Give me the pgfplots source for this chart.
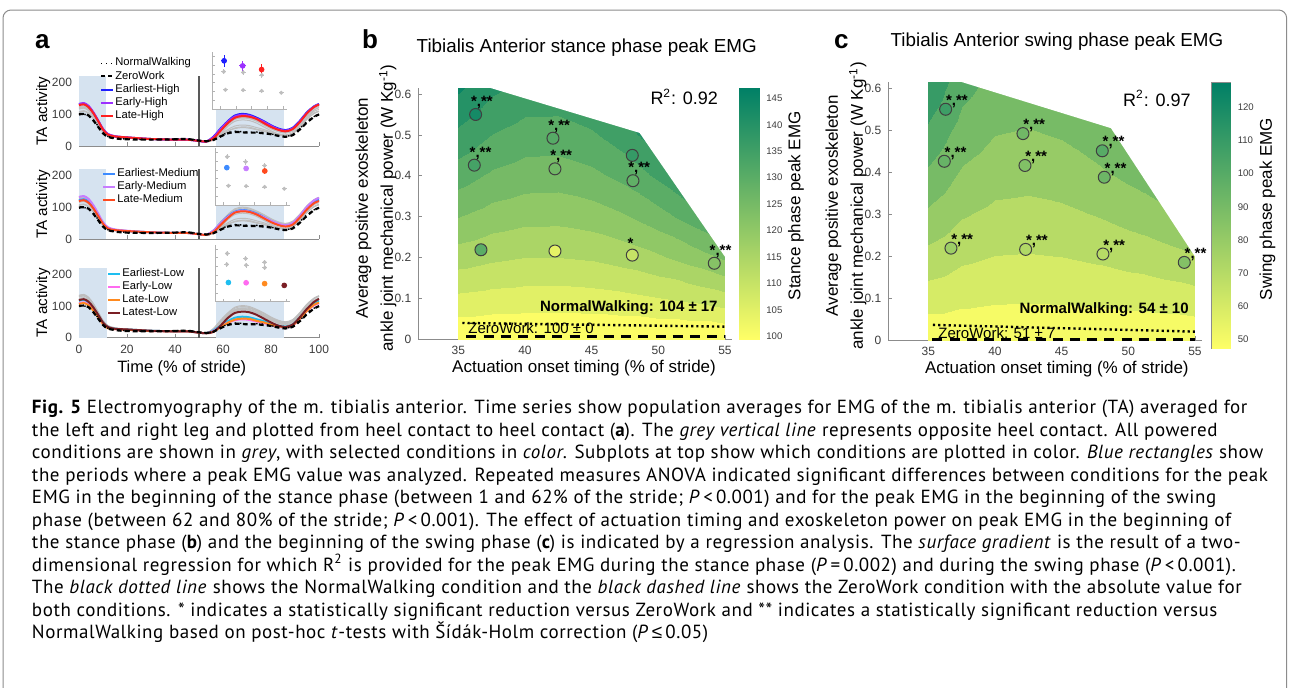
\documentclass[border=0pt]{standalone}
\usepackage{fontspec}
\setmainfont{Liberation Sans}
\newfontfamily\capfont[LetterSpace=3]{PT Sans}
\newfontfamily\symfont{Liberation Sans}
\usepackage{pgfplots}
\usepackage{pgfplotstable}
\pgfplotsset{compat=1.18}

\definecolor{axgray}{HTML}{8C8C8C}
\definecolor{tkgray}{HTML}{3C3C3C}
\definecolor{rectblue}{HTML}{D6E3F0}
\definecolor{gline}{HTML}{BEBEBE}
\definecolor{cEH}{HTML}{1F1FFF}
\definecolor{cEyH}{HTML}{9B30FF}
\definecolor{cLH}{HTML}{FF2020}
\definecolor{cEM}{HTML}{3D8BFF}
\definecolor{cEyM}{HTML}{C77DFF}
\definecolor{cLM}{HTML}{FF4A1F}
\definecolor{cEL}{HTML}{1EBEF0}
\definecolor{cEyL}{HTML}{FF6BF0}
\definecolor{cLL}{HTML}{FF8A1F}
\definecolor{cLtL}{HTML}{7A1E24}

\pgfplotsset{
  colormap={stancemap}{rgb255(100)=(252,253,102) rgb255(105)=(225,240,102) rgb255(110)=(198,227,102)
    rgb255(115)=(171,213,102) rgb255(120)=(144,200,102) rgb255(125)=(118,186,102) rgb255(130)=(91,173,102)
    rgb255(135)=(64,159,102) rgb255(140)=(37,146,102) rgb255(145)=(10,133,102) rgb255(150)=(10,133,102)},
  colormap={swingmap}{rgb255(50)=(246,251,102) rgb255(60)=(214,235,102) rgb255(70)=(183,219,102)
    rgb255(80)=(151,203,102) rgb255(90)=(119,187,102) rgb255(100)=(87,171,102) rgb255(110)=(55,155,102)
    rgb255(120)=(23,139,102) rgb255(130)=(23,139,102)},
  colormap={summerr}{rgb=(1,1,0.4) rgb=(0,0.5,0.4)},
  matlab/.style={
    scale only axis, clip=false,
    axis x line*=bottom, axis y line*=left,
    axis line style={axgray, line width=0.5pt},
    tick style={axgray, line width=0.4pt},
    tick align=inside, major tick length=2pt,
    tick label style={font=\fontsize{6}{7}\selectfont, text=tkgray},
    /pgf/number format/assume math mode=true,
  },
  tsaxis/.style={matlab, anchor=south west, width=120pt, height=35pt,
    xmin=0, xmax=100, ymin=0, ymax=220, xtick={0,20,...,100}, ytick={0,100,200},
    ylabel={TA activity},
    ylabel style={at={(axis description cs:-0.149,0.5)}, anchor=center, font=\fontsize{7.6}{8}\selectfont},
    legend style={draw=none, fill=none, anchor=north west, inner sep=0pt, row sep=0pt,
      font=\fontsize{5.6}{6}\selectfont, nodes={inner sep=0.5pt}},
    legend cell align=left,
    legend image code/.code={\draw[##1] (0pt,0pt) -- (6pt,0pt);},
  },
  inset/.style={matlab, anchor=south west, width=37.5pt, height=28.5pt,
    xmin=32.5, xmax=56, ymin=0, ymax=0.65, xtick={35,40,...,55}, ytick={0.1,0.2,0.3,0.4,0.5,0.6},
    xticklabels={}, yticklabels={}, major tick length=1.5pt,
    axis line style={black!30, line width=0.4pt}, tick style={black!30},
    axis background/.style={fill=white}},
  gpt/.style={only marks, mark=*, mark size=0.8pt, gline,
    error bars/.cd, x dir=both, x explicit, y dir=both, y explicit, error mark=none},
  cpt/.style={only marks, mark=*, mark size=1.2pt, #1,
    error bars/.cd, x dir=both, x explicit, y dir=both, y explicit, error mark=none},
  contaxis/.style={matlab, anchor=south west, width=156.65pt,
    xmin=32, xmax=55.5, ymin=0, ymax=0.615, xtick={35,40,...,55}, ytick={0,0.1,0.2,0.3,0.4,0.5,0.6},
    xlabel={Actuation onset timing (\% of stride)},
    ylabel={Average positive exoskeleton\\ankle joint mechanical power (W Kg\textsuperscript{-1})},
    xlabel style={font=\fontsize{8.5}{9}\selectfont, anchor=center},
    ylabel style={font=\fontsize{8.5}{12.5}\selectfont, align=center, anchor=center},
    title style={font=\fontsize{9.4}{11}\selectfont, anchor=center},
  },
  cbaxis/.style={scale only axis, anchor=south west, xmin=0, xmax=1, xtick=\empty,
    axis line style={axgray, line width=0.4pt}, tick style={axgray, line width=0.4pt},
    tick align=inside, major tick length=1.5pt, yticklabel pos=right,
    yticklabel style={font=\fontsize{4.8}{5}\selectfont, text=tkgray},
    /pgf/number format/assume math mode=true,
    ylabel style={font=\fontsize{8.5}{9}\selectfont, anchor=center, rotate=0},
    colormap name=summerr},
}

% TA activity time series (% stride)
\pgfplotstableread{
x EH EyH LH EM EyM LM EL EyL LL LtL NW ZW
0 130 132 128 123 133 120 116 108 106 118 98 100
2 133 135 131 126 136 123 119 111 109 121 100 101
4 124 126 122 118 127 115 111 104 102 113 95 96
6 104 106 103 99 107 97 93 87 85 95 82 80
8 79 80 78 75 81 73 71 66 65 72 62 60
10 53 54 52 50 54 49 47 44 43 48 42 40
12 37 38 36 35 38 34 33 31 30 34 30 29
15 30 31 30 29 31 29 28 27 27 28 25 24
20 27 27 27 26 27 26 26 25 25 26 22 21
30 22 22 22 22 22 22 22 21 21 22 20 20
40 20 20 20 20 20 20 20 20 20 20 22 21
45 20 20 20 20 20 20 20 20 20 20 22 22
50 16 16 16 16 16 16 16 16 16 16 18 17
53 14 14 14 14 14 14 14 14 14 14 16 15
56 29 28 24 27 27 23 23 21 19 18 20 19
59 55 53 48 51 50 45 38 35 33 38 32 30
62 78 76 72 72 70 67 52 47 47 62 42 40
65 96 93 89 87 85 84 63 55 57 78 46 44
68 101 98 94 92 90 88 66 58 60 82 45 43
71 98 95 92 89 87 86 64 56 59 80 43 42
74 89 86 85 81 79 78 58 51 53 72 44 42
77 78 76 72 70 69 66 52 46 48 60 42 40
80 65 63 60 57 58 54 44 40 41 48 38 37
83 55 53 51 47 49 45 38 35 36 38 33 32
86 50 48 46 42 44 40 35 32 33 34 30 29
89 57 55 53 49 51 46 41 38 39 41 36 34
92 79 77 75 71 74 68 63 59 60 64 55 52
95 106 104 103 98 102 94 89 84 85 91 77 74
98 125 124 123 118 123 114 109 102 104 113 93 92
100 132 131 130 125 130 120 115 108 110 122 100 99
}\tsdata

% regression surface, stance phase peak EMG
\pgfplotstableread{
t p z
35 0 100
37.5 0 100
40 0 100
42.5 0 100
45 0 100
47.5 0 100
50 0 100
52.5 0 100
55 0 100
35 0.1 109.0
37.5 0.1 108.2
40 0.1 107.8
42.5 0.1 107.7
45 0.1 108.1
47.5 0.1 108.8
50 0.1 109.9
52.5 0.1 111.3
55 0.1 113.2
35 0.2 117.3
37.5 0.2 115.8
40 0.2 114.9
42.5 0.2 114.9
45 0.2 115.5
47.5 0.2 117.0
50 0.2 119.1
52.5 0.2 122.1
55 0.2 125.7
35 0.3 125.1
37.5 0.3 122.7
40 0.3 121.5
42.5 0.3 121.4
45 0.3 122.4
47.5 0.3 124.5
50 0.3 127.8
52.5 0.3 132.2
55 0.3 137.7
35 0.4 132.3
37.5 0.4 129.1
40 0.4 127.5
42.5 0.4 127.3
45 0.4 128.7
47.5 0.4 131.5
50 0.4 135.9
52.5 0.4 141.7
55 0.4 149.1
35 0.5 138.8
37.5 0.5 134.9
40 0.5 132.8
42.5 0.5 132.7
45 0.5 134.3
47.5 0.5 137.9
50 0.5 143.3
52.5 0.5 150.7
55 0.5 159.8
35 0.615 145.9
37.5 0.615 141.1
40 0.615 138.5
42.5 0.615 138.3
45 0.615 140.4
47.5 0.615 144.8
50 0.615 151.5
52.5 0.615 160.6
55 0.615 172.0
}\stancesurf

% regression surface, swing phase peak EMG
\pgfplotstableread{
t p z
35 0 52
37.5 0 52
40 0 52
42.5 0 52
45 0 52
47.5 0 52
50 0 52
52.5 0 52
55 0 52
35 0.1 64.9
37.5 0.1 62.5
40 0.1 61.4
42.5 0.1 61.1
45 0.1 61.5
47.5 0.1 62.3
50 0.1 63.4
52.5 0.1 64.6
55 0.1 66.1
35 0.2 77.0
37.5 0.2 72.1
40 0.2 69.9
42.5 0.2 69.5
45 0.2 70.2
47.5 0.2 71.8
50 0.2 73.9
52.5 0.2 76.4
55 0.2 79.4
35 0.3 88.3
37.5 0.3 81.0
40 0.3 77.7
42.5 0.3 77.0
45 0.3 78.1
47.5 0.3 80.4
50 0.3 83.7
52.5 0.3 87.4
55 0.3 91.9
35 0.4 98.8
37.5 0.4 89.0
40 0.4 84.6
42.5 0.4 83.7
45 0.4 85.2
47.5 0.4 88.3
50 0.4 92.6
52.5 0.4 97.6
55 0.4 103.6
35 0.5 108.5
37.5 0.5 96.3
40 0.5 90.8
42.5 0.5 89.7
45 0.5 91.5
47.5 0.5 95.4
50 0.5 100.8
52.5 0.5 107.0
55 0.5 114.5
35 0.615 119.1
37.5 0.615 103.9
40 0.615 97.1
42.5 0.615 95.7
45 0.615 98.0
47.5 0.615 102.8
50 0.615 109.5
52.5 0.615 117.2
55 0.615 126.5
}\swingsurf

\begin{document}
\begin{tikzpicture}
\useasboundingbox (0pt,0pt) rectangle (645pt,-343.5pt);
\draw[black!45, line width=0.5pt, rounded corners=4pt] (1.5pt,-5pt) rectangle (643.3pt,-360pt);

% ---------------- panel a ----------------
\node[anchor=base west, font=\bfseries\fontsize{13}{14}\selectfont] at (14pt,-24pt) {a};

% high
\begin{axis}[tsaxis, at={(39.5pt,-73pt)}, xticklabels={}, legend style={at={(0.0875,1.28)}}]
  \addplot[fill=rectblue, draw=none, forget plot] coordinates {(0,0) (0,220) (11.3,220) (11.3,0)} -- cycle;
  \addplot[fill=rectblue, draw=none, forget plot] coordinates {(57,0) (57,220) (85.4,220) (85.4,0)} -- cycle;
  \addplot[black!65, line width=0.6pt, forget plot] coordinates {(50,0) (50,220)};
  \pgfplotsinvokeforeach{EH,EyH,LH,EM,EyM,LM,EL,EyL,LL,LtL}{
    \addplot[gline, line width=0.5pt, smooth, forget plot] table[x=x, y=#1] {\tsdata};}
  \addplot[cEH, line width=1pt, smooth, forget plot] table[x=x, y=EH] {\tsdata};
  \addplot[cEyH, line width=1pt, smooth, forget plot] table[x=x, y=EyH] {\tsdata};
  \addplot[cLH, line width=1pt, smooth, forget plot] table[x=x, y=LH] {\tsdata};
  \addplot[black, line width=0.7pt, dotted, smooth, forget plot] table[x=x, y=NW] {\tsdata};
  \addplot[black, line width=1.1pt, dash pattern=on 2.4pt off 1.6pt, smooth, forget plot] table[x=x, y=ZW] {\tsdata};
  \addlegendimage{black, line width=0.5pt, dotted}\addlegendentry{NormalWalking}
  \addlegendimage{black, line width=1pt, dash pattern=on 2pt off 1.5pt}\addlegendentry{ZeroWork}
  \addlegendimage{cEH, line width=1pt}\addlegendentry{Earliest-High}
  \addlegendimage{cEyH, line width=1pt}\addlegendentry{Early-High}
  \addlegendimage{cLH, line width=1pt}\addlegendentry{Late-High}
\end{axis}
\begin{axis}[inset, at={(106pt,-54.5pt)}]
  \addplot[gpt] coordinates {(36.2,0.426) +- (0.8,0.03) (42.25,0.417) +- (0.8,0.03) (48.1,0.388) +- (0.8,0.03)
    (36.7,0.219) +- (0.8,0.015) (42.25,0.216) +- (0.8,0.015) (48.05,0.206) +- (0.8,0.015) (54.2,0.186) +- (0.8,0.015)};
  \addplot[cpt=cEH] coordinates {(36.3,0.550) +- (1.0,0.07)};
  \addplot[cpt=cEyH] coordinates {(42.1,0.492) +- (1.0,0.06)};
  \addplot[cpt=cLH] coordinates {(48.05,0.450) +- (0.8,0.06)};
\end{axis}

% medium
\begin{axis}[tsaxis, at={(39.5pt,-119.65pt)}, xticklabels={}, legend style={at={(0.096,1.03)}}]
  \addplot[fill=rectblue, draw=none, forget plot] coordinates {(0,0) (0,220) (11.3,220) (11.3,0)} -- cycle;
  \addplot[fill=rectblue, draw=none, forget plot] coordinates {(57,0) (57,220) (85.4,220) (85.4,0)} -- cycle;
  \addplot[black!65, line width=0.6pt, forget plot] coordinates {(50,0) (50,220)};
  \pgfplotsinvokeforeach{EH,EyH,LH,EM,EyM,LM,EL,EyL,LL,LtL}{
    \addplot[gline, line width=0.5pt, smooth, forget plot] table[x=x, y=#1] {\tsdata};}
  \addplot[cEM, line width=1pt, smooth, forget plot] table[x=x, y=EM] {\tsdata};
  \addplot[cEyM, line width=1pt, smooth, forget plot] table[x=x, y=EyM] {\tsdata};
  \addplot[cLM, line width=1pt, smooth, forget plot] table[x=x, y=LM] {\tsdata};
  \addplot[black, line width=0.7pt, dotted, smooth, forget plot] table[x=x, y=NW] {\tsdata};
  \addplot[black, line width=1.1pt, dash pattern=on 2.4pt off 1.6pt, smooth, forget plot] table[x=x, y=ZW] {\tsdata};
  \addlegendimage{cEM, line width=1pt}\addlegendentry{Earliest-Medium}
  \addlegendimage{cEyM, line width=1pt}\addlegendentry{Early-Medium}
  \addlegendimage{cLM, line width=1pt}\addlegendentry{Late-Medium}
\end{axis}
\begin{axis}[inset, at={(107.5pt,-102.5pt)}]
  \addplot[gpt] coordinates {(36.3,0.550) +- (0.8,0.03) (42.1,0.492) +- (0.8,0.03) (48.05,0.450) +- (0.8,0.03)
    (36.7,0.219) +- (0.8,0.015) (42.25,0.216) +- (0.8,0.015) (48.05,0.206) +- (0.8,0.015) (54.2,0.186) +- (0.8,0.015)};
  \addplot[cpt=cEM] coordinates {(36.2,0.426) +- (0.8,0.02)};
  \addplot[cpt=cEyM] coordinates {(42.25,0.417) +- (0.8,0.02)};
  \addplot[cpt=cLM] coordinates {(48.1,0.388) +- (0.8,0.03)};
\end{axis}

% low
\begin{axis}[tsaxis, at={(39.5pt,-168.85pt)}, xlabel={Time (\% of stride)},
    xlabel style={at={(axis description cs:0.428,-0.437)}, anchor=center, font=\fontsize{8.2}{9}\selectfont},
    legend style={at={(0.117,1.01)}}]
  \addplot[fill=rectblue, draw=none, forget plot] coordinates {(0,0) (0,220) (11.5,220) (11.5,0)} -- cycle;
  \addplot[fill=rectblue, draw=none, forget plot] coordinates {(57,0) (57,220) (85.4,220) (85.4,0)} -- cycle;
  \addplot[black!65, line width=0.6pt, forget plot] coordinates {(50,0) (50,220)};
  \pgfplotsinvokeforeach{EH,EyH,LH,EM,EyM,LM,EL,EyL,LL,LtL}{
    \addplot[gline, line width=0.5pt, smooth, forget plot] table[x=x, y=#1] {\tsdata};}
  \addplot[cEL, line width=1pt, smooth, forget plot] table[x=x, y=EL] {\tsdata};
  \addplot[cEyL, line width=1pt, smooth, forget plot] table[x=x, y=EyL] {\tsdata};
  \addplot[cLL, line width=1pt, smooth, forget plot] table[x=x, y=LL] {\tsdata};
  \addplot[cLtL, line width=1pt, smooth, forget plot] table[x=x, y=LtL] {\tsdata};
  \addplot[black, line width=0.7pt, dotted, smooth, forget plot] table[x=x, y=NW] {\tsdata};
  \addplot[black, line width=1.1pt, dash pattern=on 2.4pt off 1.6pt, smooth, forget plot] table[x=x, y=ZW] {\tsdata};
  \addlegendimage{cEL, line width=1pt}\addlegendentry{Earliest-Low}
  \addlegendimage{cEyL, line width=1pt}\addlegendentry{Early-Low}
  \addlegendimage{cLL, line width=1pt}\addlegendentry{Late-Low}
  \addlegendimage{cLtL, line width=1pt}\addlegendentry{Latest-Low}
\end{axis}
\begin{axis}[inset, at={(107.5pt,-150.85pt)}]
  \addplot[gpt] coordinates {(36.3,0.550) +- (0.8,0.03) (42.1,0.492) +- (0.8,0.03) (48.05,0.450) +- (0.8,0.03)
    (36.2,0.426) +- (0.8,0.03) (42.25,0.417) +- (0.8,0.03) (48.1,0.388) +- (0.8,0.03)};
  \addplot[cpt=cEL] coordinates {(36.7,0.219) +- (0.8,0.01)};
  \addplot[cpt=cEyL] coordinates {(42.25,0.216) +- (0.8,0.01)};
  \addplot[cpt=cLL] coordinates {(48.05,0.206) +- (0.8,0.01)};
  \addplot[cpt=cLtL] coordinates {(54.2,0.186) +- (0.8,0.01)};
\end{axis}

% ---------------- panel b ----------------
\node[anchor=base west, font=\bfseries\fontsize{13}{14}\selectfont] at (177.5pt,-24pt) {b};
\begin{axis}[contaxis, at={(209.15pt,-169.65pt)}, height=125.7pt,
    colormap name=stancemap, point meta min=100, point meta max=150,
    title={Tibialis Anterior stance phase peak EMG},
    title style={at={(axis description cs:0.5375,1.1138)}},
    xlabel style={at={(axis description cs:0.529,-0.1154)}},
    ylabel style={at={(axis description cs:-0.135,0.522)}}]
  \addplot[surf, shader=interp, colormap access=piecewise constant, mesh/cols=9, point meta=\thisrow{z}]
    table[x=t, y=p] {\stancesurf};
  \addplot[fill=white, draw=none] coordinates {(37.4,0.63) (37.4,0.615) (48.6,0.505) (55.0,0.202) (55.4,0.202) (55.4,0.63)} -- cycle;
  \addplot[black, line width=1.2pt, dash pattern=on 1.1pt off 1.5pt] coordinates {(35.3,0.040) (55,0.031)};
  \addplot[black, line width=1.6pt, dash pattern=on 5pt off 3.6pt] coordinates {(35.6,0.006) (55,0.006)};
  \addplot[scatter, only marks, mark=*, mark size=3pt, point meta=explicit,
    scatter/use mapped color={draw=black!75, fill=mapped color, line width=0.5pt}] coordinates {
    (36.3,0.550) [143] (36.2,0.426) [134] (42.1,0.492) [131] (42.25,0.417) [126] (48.05,0.450) [137]
    (48.1,0.388) [129] (36.7,0.219) [130] (42.25,0.216) [104] (48.05,0.206) [110] (54.2,0.186) [122]};
  \addplot[only marks, mark=none, nodes near coords, point meta=explicit symbolic,
    every node near coord/.append style={font=\bfseries\fontsize{7.5}{8}\selectfont, anchor=west, xshift=-2.5pt, yshift=6pt, inner sep=0pt}]
    coordinates {(36.3,0.550) [{*,**}] (36.2,0.426) [{*,**}] (42.1,0.492) [{*,**}] (42.25,0.417) [{*,**}]
    (48.1,0.388) [{*,**}] (48.05,0.206) [{*}] (54.2,0.186) [{*,**}]};
  \node[anchor=east, font=\fontsize{9}{10}\selectfont] at (axis cs:55,0.593) {R\textsuperscript{2}: 0.92};
  \node[anchor=east, font=\bfseries\fontsize{7.5}{8}\selectfont, inner sep=0pt] at (axis cs:54.48,0.078) {NormalWalking: 104 ± 17};
  \node[anchor=west, font=\fontsize{7.5}{8}\selectfont, inner sep=0pt] at (axis cs:35.73,0.028) {ZeroWork: 100 ± 0};
\end{axis}
\begin{axis}[cbaxis, at={(369.65pt,-169.65pt)}, width=10pt, height=125.5pt,
    ymin=99.4, ymax=146.9, ytick={100,105,...,145}, point meta min=99.4, point meta max=146.9,
    ylabel={Stance phase peak EMG}, ylabel style={at={(axis description cs:2.835,0.532)}}]
  \addplot[surf, shader=interp, mesh/cols=2, point meta=\thisrow{v}] table {
x y v
0 99.4 99.4
1 99.4 99.4
0 146.9 146.9
1 146.9 146.9
};
\end{axis}

% ---------------- panel c ----------------
\node[anchor=base west, font=\bfseries\fontsize{13}{14}\selectfont] at (413.5pt,-24pt) {c};
\begin{axis}[contaxis, at={(444.15pt,-170pt)}, height=129pt,
    colormap name=swingmap, point meta min=50, point meta max=130,
    title={Tibialis Anterior swing phase peak EMG},
    title style={at={(axis description cs:0.5384,1.1083)}},
    xlabel style={at={(axis description cs:0.538,-0.112)}},
    ylabel style={at={(axis description cs:-0.135,0.52)}}]
  \addplot[surf, shader=interp, colormap access=piecewise constant, mesh/cols=9, point meta=\thisrow{z}]
    table[x=t, y=p] {\swingsurf};
  \addplot[fill=white, draw=none] coordinates {(37.5,0.63) (37.5,0.615) (48.7,0.505) (55.0,0.199) (55.4,0.199) (55.4,0.63)} -- cycle;
  \addplot[black, line width=1.2pt, dash pattern=on 1.1pt off 1.5pt] coordinates {(35.35,0.036) (55,0.020)};
  \addplot[black, line width=1.6pt, dash pattern=on 5pt off 3.6pt] coordinates {(35.3,0.002) (55,0.002)};
  \addplot[scatter, only marks, mark=*, mark size=3pt, point meta=explicit,
    scatter/use mapped color={draw=black!75, fill=mapped color, line width=0.5pt}] coordinates {
    (36.3,0.550) [108] (36.2,0.426) [95] (42.1,0.492) [92] (42.25,0.416) [87] (48.05,0.451) [100]
    (48.2,0.388) [93] (36.7,0.219) [78] (42.3,0.216) [72] (48.1,0.205) [70] (54.2,0.185) [86]};
  \addplot[only marks, mark=none, nodes near coords, point meta=explicit symbolic,
    every node near coord/.append style={font=\bfseries\fontsize{7.5}{8}\selectfont, anchor=west, xshift=0pt, yshift=4pt, inner sep=0pt}]
    coordinates {(36.3,0.550) [{*,**}] (36.2,0.426) [{*,**}] (42.1,0.492) [{*,**}] (42.25,0.416) [{*,**}]
    (48.05,0.451) [{*,**}] (48.2,0.388) [{*,**}] (36.7,0.219) [{*,**}] (42.3,0.216) [{*,**}]
    (48.1,0.205) [{*,**}] (54.2,0.185) [{*,**}]};
  \node[anchor=east, font=\fontsize{9}{10}\selectfont] at (axis cs:55.2,0.576) {R\textsuperscript{2}: 0.97};
  \node[anchor=east, font=\bfseries\fontsize{7.5}{8}\selectfont, inner sep=0pt] at (axis cs:54.56,0.0715) {NormalWalking: 54 ± 10};
  \node[anchor=west, font=\fontsize{7.5}{8}\selectfont, inner sep=0pt] at (axis cs:35.73,0.0174) {ZeroWork: 51 ± 7};
\end{axis}
\begin{axis}[cbaxis, at={(605.85pt,-174.35pt)}, width=9.5pt, height=133pt,
    ymin=47.2, ymax=127.4, ytick={50,60,...,120}, point meta min=47.2, point meta max=127.4,
    ylabel={Swing phase peak EMG}, ylabel style={at={(axis description cs:2.93,0.525)}}]
  \addplot[surf, shader=interp, mesh/cols=2, point meta=\thisrow{v}] table {
x y v
0 47.2 47.2
1 47.2 47.2
0 127.4 127.4
1 127.4 127.4
};
\end{axis}

% ---------------- caption ----------------
\node[anchor=north west, align=left, inner sep=0pt, font=\capfont\fontsize{9.5}{11.25}\selectfont] at (15.8pt,-200pt) {%
{\bfseries Fig. 5} Electromyography of the m. tibialis anterior. Time series show population averages for EMG of the m. tibialis anterior (TA) averaged for\\
the left and right leg and plotted from heel contact to heel contact ({\bfseries a}). The \textit{grey vertical line} represents opposite heel contact. All powered\\
conditions are shown in \textit{grey}, with selected conditions in \textit{color}. Subplots at top show which conditions are plotted in color. \textit{Blue rectangles} show\\
the periods where a peak EMG value was analyzed. Repeated measures ANOVA indicated significant differences between conditions for the peak\\
EMG in the beginning of the stance phase (between 1 and 62\% of the stride; \textit{P}\,<\,0.001) and for the peak EMG in the beginning of the swing\\
phase (between 62 and 80\% of the stride; \textit{P}\,<\,0.001). The effect of actuation timing and exoskeleton power on peak EMG in the beginning of\\
the stance phase ({\bfseries b}) and the beginning of the swing phase ({\bfseries c}) is indicated by a regression analysis. The \textit{surface gradient} is the result of a two-\\
dimensional regression for which R\textsuperscript{2} is provided for the peak EMG during the stance phase (\textit{P}\,=\,0.002) and during the swing phase (\textit{P}\,<\,0.001).\\
The \textit{black dotted line} shows the NormalWalking condition and the \textit{black dashed line} shows the ZeroWork condition with the absolute value for\\
both conditions. * indicates a statistically significant reduction versus ZeroWork and ** indicates a statistically significant reduction versus\\
NormalWalking based on post-hoc \textit{t}-tests with Šídák-Holm correction (\textit{P}\,{\symfont ≤}\,0.05)};
\end{tikzpicture}
\end{document}
